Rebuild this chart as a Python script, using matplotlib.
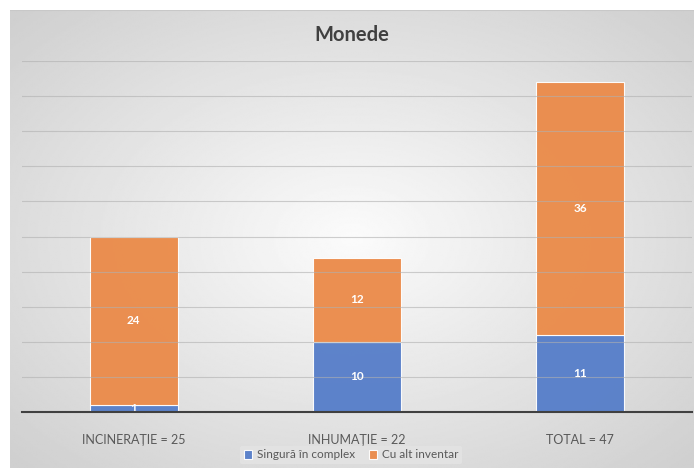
import numpy as np
import matplotlib.pyplot as plt

categories = ["INCINERAȚIE = 25", "INHUMAȚIE = 22", "TOTAL = 47"]
singura = [1, 10, 11]
cu_alt = [24, 12, 36]
series_names = ["Singură în complex", "Cu alt inventar"]

blue = "#557dc9"
orange = "#eb8a48"

plt.rcParams['font.family'] = ['Lato', 'DejaVu Sans']

fig = plt.figure(figsize=(6.94, 4.68), dpi=100)

# gradient background for the chart area (white centre, grey edges)
bg = fig.add_axes([10/694, 0, 684/694, 458/468])
yy, xx = np.mgrid[-1:1:300j, -1:1:400j]
r = np.sqrt(xx**2 * 0.9 + yy**2 * 0.9)
shade = 0.985 - 0.13 * np.clip(r, 0, 1.3)
bg.imshow(shade, cmap="gray", vmin=0, vmax=1, aspect="auto",
          extent=[0, 1, 0, 1], interpolation="bilinear")
bg.set_xlim(0, 1)
bg.set_ylim(0, 1)
bg.axhline(1, color="#c8c8c8", lw=1.5)
bg.set_axis_off()

ax = fig.add_axes([22/694, (468-412)/468, 670/694, 351/468])
ax.set_facecolor("none")
x = np.arange(len(categories))
w = 0.395

b1 = ax.bar(x, singura, w, color=blue, alpha=0.95, edgecolor=(1, 1, 1, 0.4),
            linewidth=0.8, label=series_names[0], zorder=2)
b2 = ax.bar(x, cu_alt, w, bottom=singura, color=orange, alpha=0.95,
            edgecolor=(1, 1, 1, 0.4), linewidth=0.8, label=series_names[1], zorder=2)

for i in range(len(categories)):
    ax.text(x[i], singura[i] / 2, str(singura[i]), ha="center", va="center",
            color="white", fontsize=8.5, fontweight="bold", zorder=4)
    ax.text(x[i], singura[i] + cu_alt[i] / 2, str(cu_alt[i]), ha="center",
            va="center", color="white", fontsize=8.5, fontweight="bold", zorder=4)

ax.set_xlim(-0.5, 2.5)
ax.set_ylim(0, 50)
ax.set_yticks(np.arange(5, 51, 5))
ax.yaxis.grid(True, color="#b0b0b0", lw=0.8, alpha=0.6, zorder=3)
ax.set_axisbelow(False)
ax.tick_params(axis="y", left=False, labelleft=False)
ax.tick_params(axis="x", bottom=False, pad=12, labelsize=9, colors="#595959")
ax.set_xticks(x)
ax.set_xticklabels(categories)
for s in ["top", "right", "left"]:
    ax.spines[s].set_visible(False)
ax.spines["bottom"].set_color("#404040")
ax.spines["bottom"].set_linewidth(1.5)
ax.spines["bottom"].set_zorder(5)

fig.text(0.5 + 5/694, 1 - 35/468, "Monede", ha="center", va="center",
         fontsize=14.5, fontweight="bold", color="#404040")

leg = fig.legend(handles=[b1, b2], labels=series_names, loc="center",
                 bbox_to_anchor=(0.5 + 4/694, 1 - 455/468), ncol=2,
                 frameon=True, fontsize=8.5, handlelength=0.7, handleheight=0.7,
                 handletextpad=0.4, columnspacing=1.2, borderpad=0.3)
leg.get_frame().set_facecolor("#e4e4e4")
leg.get_frame().set_edgecolor("none")
leg.get_frame().set_alpha(0.8)
for t in leg.get_texts():
    t.set_color("#595959")

fig.savefig("out.png", dpi=100)
